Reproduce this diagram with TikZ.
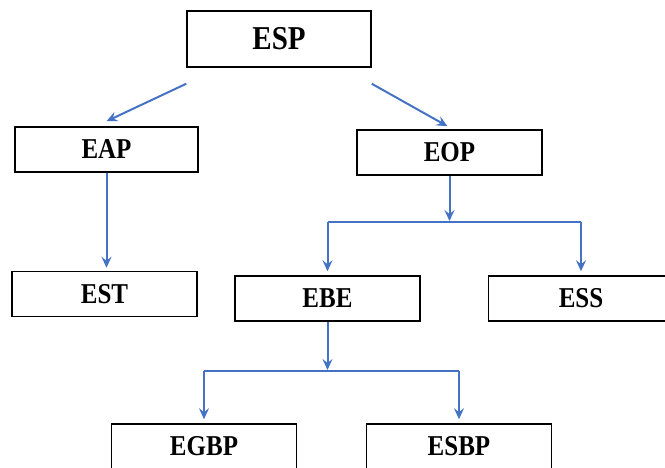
\documentclass[tikz,border=0pt]{standalone}
\usepackage{fontspec}
\setmainfont{Liberation Serif}
\usetikzlibrary{arrows.meta,calc}
\definecolor{azulflecha}{RGB}{68,114,196}
\newcommand{\rotulo}[1]{\scalebox{1}[1.15]{#1}}
\tikzset{
  caja/.style={draw=black,line width=1.5pt,fill=white,minimum width=185pt,minimum height=45pt,
    font=\bfseries\fontsize{25}{30}\selectfont},
  flecha/.style={draw=azulflecha,line width=2pt,-{Stealth[length=11pt,width=10pt,inset=4pt]}},
  linea/.style={draw=azulflecha,line width=2pt}
}
\begin{document}
\begin{tikzpicture}[x=1pt,y=-1pt]
        % Marco de la figura
        \useasboundingbox (0,0) rectangle (665,468);
        \clip (0,0) rectangle (665,468);
        % Cajas
        \node[caja,minimum width=184pt,minimum height=56pt,font=\bfseries\fontsize{29}{34}\selectfont] (ESP) at (279,39) {\rotulo{ESP}};
        \node[caja,minimum width=183pt] (EAP) at (106.5,149.5) {\rotulo{EAP}};
        \node[caja] (EOP) at (449.5,152.5) {\rotulo{EOP}};
        \node[caja] (EST) at (104.5,294) {\rotulo{EST}};
        \node[caja] (EBE) at (327.5,298.5) {\rotulo{EBE}};
        \node[caja] (ESS) at (581,298.5) {\rotulo{ESS}};
        \node[caja] (EGBP) at (204,446.5) {\rotulo{EGBP}};
        \node[caja] (ESBP) at (459,446.5) {\rotulo{ESBP}};
        % Puntos de unión
        \coordinate (uEOP) at (449.5,222);
        \coordinate (uEBE) at (327.5,371);
        % Flechas
        \draw[flecha] ($(ESP.south west)+(0,16)$) -- ($(EAP.north)+(0,-5)$);
        \draw[flecha] ($(ESP.south east)+(0,16)$) -- ($(EOP.north)+(-2,-3)$);
        \draw[flecha,shorten >=3pt] (EAP.south) -- (EAP.south |- EST.north);
        \draw[flecha,shorten >=1pt] (EOP.south) -- (uEOP);
        \draw[linea] (uEOP -| EBE.north) -- (uEOP -| ESS.north);
        \draw[flecha,shorten >=4pt] (uEOP -| EBE.north) -- (EBE.north);
        \draw[flecha,shorten >=4pt] (uEOP -| ESS.north) -- (ESS.north);
        \draw[flecha,shorten >=1pt] (EBE.south) -- (uEBE);
        \draw[linea] (uEBE -| EGBP.north) -- (uEBE -| ESBP.north);
        \draw[flecha,shorten >=4pt] (uEBE -| EGBP.north) -- (EGBP.north);
        \draw[flecha,shorten >=4pt] (uEBE -| ESBP.north) -- (ESBP.north);
\end{tikzpicture}
\end{document}
